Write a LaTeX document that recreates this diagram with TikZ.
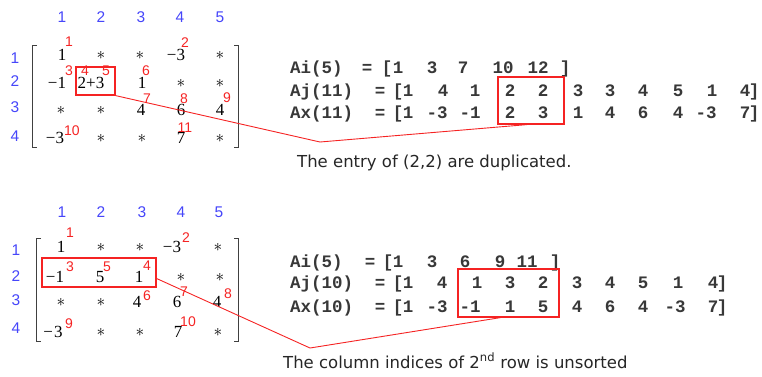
\documentclass[tikz,border=0pt]{standalone}
\usepackage{fontspec}
\setmainfont{Liberation Serif}
\newfontfamily\idxfont{Liberation Sans}
\newfontfamily\codefont{Liberation Mono}
\newfontfamily\notefont{DejaVu Sans}
\definecolor{idxblue}{RGB}{70, 70, 250}
\definecolor{posred}{RGB}{245, 35, 35}

\begin{document}
\begin{tikzpicture}[
  x=1pt, y=-1pt,
  idx/.style={text=idxblue, font=\idxfont\fontsize{15.5}{15.5}\selectfont, inner sep=0pt},
  ent/.style={font=\fontsize{17}{17}\selectfont, inner sep=0pt},
  nzno/.style={text=posred, font=\idxfont\fontsize{14}{14}\selectfont, inner sep=0pt},
  code/.style={anchor=base, text=black!78, font=\codefont\bfseries\fontsize{17.5}{17.5}\selectfont, inner sep=0pt},
  hl/.style={draw=posred, line width=1.2pt, inner sep=0pt},
  link/.style={draw=posred, line width=0.9pt},
  brk/.style={draw=black!75, line width=1pt},
  note/.style={anchor=base west, text=black!85, font=\notefont\fontsize{16.5}{16.5}\selectfont, inner sep=0pt}
]
\useasboundingbox (0,0) rectangle (762,376);

% ---- upper matrix: duplicated entry
\foreach \c/\x in {1/62,2/101,3/141,4/180,5/220}
  \node[idx] (tc\c) at (\x,17) {\c};
\foreach \r/\y in {1/58,2/81,3/107,4/136}
  \node[idx] (tr\r) at (15,\y) {\r};
\draw[brk] (37,45) -- (32,45) -- (32,147) -- (37,147);
\draw[brk] (234,45) -- (238,45) -- (238,147) -- (234,147);
\foreach \x/\y/\t [count=\i] in {62/55/1, 101/55/$\ast$, 140/55/$\ast$, 176/55/−3, 220/55/$\ast$,
    57/83/−1, 91/83/2+3, 142/83/1, 181/83/$\ast$, 220/83/$\ast$,
    61/110/$\ast$, 101/110/$\ast$, 141/110/4, 181/110/6, 220/110/4,
    55/138/−3, 101/138/$\ast$, 142/138/$\ast$, 181/138/7, 220/138/$\ast$}
  \node[ent] (te\i) at (\x,\y) {\t};
\foreach \x/\y/\t in {69/42/1, 185/43/2, 69/71/3, 85/71/4, 106/71/5, 146/71/6,
    147/99/7, 184/99/8, 227/98/9, 72/131/10, 185/128/11}
  \node[nzno] (tp\t) at (\x,\y) {\t};

% ---- upper CSR arrays
\node[code, anchor=base west] (ailab) at (290,73) {Ai(5)};
\node[code] (aieq) at (367,73) {=};
\foreach \x/\t [count=\i] in {387/[, 398/1, 432/3, 463/7, 503/10, 538/12, 565/]}
  \node[code] (ai\i) at (\x,73) {\t};
\node[code, anchor=base west] (ajlab) at (290,96) {Aj(11)};
\node[code] (ajeq) at (380,96) {=};
\foreach \x/\t [count=\i] in {398/[, 408/1, 443/4, 475/1, 510/2, 543/2, 578/3, 610/3,
    643/4, 678/5, 712/1, 745/4, 754/]}
  \node[code] (aj\i) at (\x,96) {\t};
\node[code, anchor=base west] (axlab) at (290,118) {Ax(11)};
\node[code] (axeq) at (380,118) {=};
\foreach \x/\t [count=\i] in {398/[, 408/1, 437/-3, 470/-1, 510/2, 543/3, 578/1, 610/4,
    643/6, 678/4, 706/-3, 745/7, 754/]}
  \node[code] (ax\i) at (\x,118) {\t};

\node[hl, minimum width=39pt, minimum height=28pt] (dup) at (95.5,81) {};
\node[hl, minimum width=66pt, minimum height=47pt] (dupcode) at (531,100.5) {};
\coordinate (kink1) at (320,142);
\draw[link] (dup.south east) -- (kink1) -- ([xshift=-4pt]dupcode.south);
\node[note] (dupnote) at (297,167) {The entry of (2,2) are duplicated.};

% ---- lower matrix: unsorted row
\foreach \c/\x in {1/62,2/101,3/142,4/181,5/219}
  \node[idx] (bc\c) at (\x,212) {\c};
\foreach \r/\y in {1/250,2/276,3/300,4/328}
  \node[idx] (br\r) at (16,\y) {\r};
\draw[brk] (41,238) -- (36,238) -- (36,341) -- (41,341);
\draw[brk] (234,238) -- (238,238) -- (238,341) -- (234,341);
\foreach \x/\y/\t [count=\i] in {61/247/1, 101/247/$\ast$, 140/247/$\ast$, 172/247/−3, 218/247/$\ast$,
    55/277/−1, 100/277/5, 139/277/1, 181/277/$\ast$, 220/277/$\ast$,
    61/302/$\ast$, 101/302/$\ast$, 137/302/4, 177/302/6, 217/302/4,
    53/332/−\kern1pt3, 101/332/$\ast$, 140/332/$\ast$, 178/332/7, 218/332/$\ast$}
  \node[ent] (be\i) at (\x,\y) {\t};
\foreach \x/\y/\t in {70/233/1, 186/238/2, 70/267/3, 147/266/4, 107/267/5, 147/296/6,
    184/292/7, 228/294/8, 69/324/9, 188/322/10}
  \node[nzno] (bp\t) at (\x,\y) {\t};

% ---- lower CSR arrays
\node[code, anchor=base west] (bilab) at (290,267) {Ai(5)};
\node[code] (bieq) at (370,267) {=};
\foreach \x/\t [count=\i] in {388/[, 398/1, 432/3, 465/6, 500/9, 527/11, 555/]}
  \node[code] (bi\i) at (\x,267) {\t};
\node[code, anchor=base west] (bjlab) at (290,288) {Aj(10)};
\node[code] (bjeq) at (380,288) {=};
\foreach \x/\t [count=\i] in {398/[, 408/1, 442/4, 477/1, 510/3, 543/2, 577/3, 610/4,
    643/5, 678/1, 713/4, 722/]}
  \node[code] (bj\i) at (\x,288) {\t};
\node[code, anchor=base west] (bxlab) at (290,312) {Ax(10)};
\node[code] (bxeq) at (380,312) {=};
\foreach \x/\t [count=\i] in {398/[, 408/1, 437/-3, 470/-1, 510/1, 543/5, 577/4, 610/6,
    643/4, 675/-3, 713/7, 722/]}
  \node[code] (bx\i) at (\x,312) {\t};

\node[hl, minimum width=114pt, minimum height=29pt] (row2) at (99,272.5) {};
\node[hl, minimum width=101pt, minimum height=48pt] (row2code) at (508.5,293) {};
\coordinate (kink2) at (310,348);
\draw[link] ([yshift=-6pt]row2.east) -- (kink2) -- ([xshift=-8pt]row2code.south);
\node[note] (sortnote) at (283,368) {The column indices of 2\textsuperscript{nd} row is unsorted};
\end{tikzpicture}
\end{document}
